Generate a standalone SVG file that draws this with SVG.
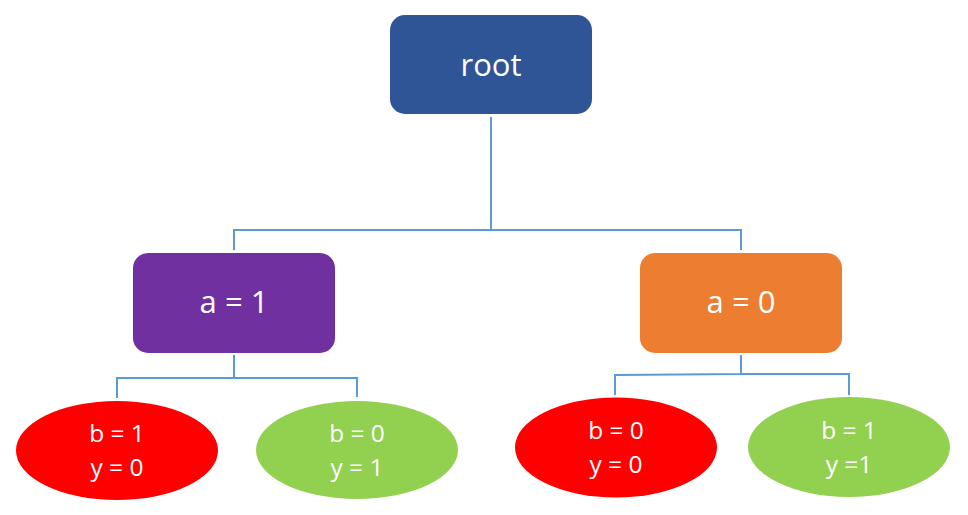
<svg xmlns="http://www.w3.org/2000/svg" width="968" height="515" viewBox="0 0 968 515">
<style>
.t{font-family:"Open Sans","Liberation Sans",sans-serif;fill:#fff;text-anchor:middle}
.big{font-size:31px}
.sm{font-size:24.5px}
.c{fill:none;stroke:#5B9BD5;stroke-width:2}
</style>
<rect width="968" height="515" fill="#fff"/>
<g id="connectors">
<path class="c" d="M491,117V230M234,250V230H741V250"/>
<path class="c" d="M234,355V378M117,398V378H357V397"/>
<path class="c" d="M741,355V375M615,395V375L741,374H849V395"/>
</g>
<g id="root">
<rect x="390" y="15" width="202" height="99" rx="15" fill="#2F5597"/>
<text class="t big" x="491" y="76">root</text>
</g>
<g id="a1">
<rect x="133" y="253" width="202" height="100" rx="15" fill="#7030A0"/>
<text class="t big" x="234" y="313">a = 1</text>
</g>
<g id="a0">
<rect x="640" y="253" width="202" height="100" rx="15" fill="#ED7D31"/>
<text class="t big" x="741" y="313">a = 0</text>
</g>
<g id="b1y0">
<ellipse cx="117" cy="450.5" rx="101" ry="49.5" fill="#FF0000"/>
<text class="t sm"><tspan x="117" y="442">b = 1</tspan><tspan x="117" y="476">y = 0</tspan></text>
</g>
<g id="b0y1">
<ellipse cx="357" cy="450" rx="101" ry="49" fill="#92D050"/>
<text class="t sm"><tspan x="357" y="442">b = 0</tspan><tspan x="357" y="476">y = 1</tspan></text>
</g>
<g id="b0y0">
<ellipse cx="616" cy="447.5" rx="101" ry="50" fill="#FF0000"/>
<text class="t sm"><tspan x="616" y="439">b = 0</tspan><tspan x="616" y="473">y = 0</tspan></text>
</g>
<g id="b1y1">
<ellipse cx="849" cy="447" rx="101" ry="50" fill="#92D050"/>
<text class="t sm"><tspan x="849" y="439">b = 1</tspan><tspan x="849" y="473">y =1</tspan></text>
</g>
</svg>
